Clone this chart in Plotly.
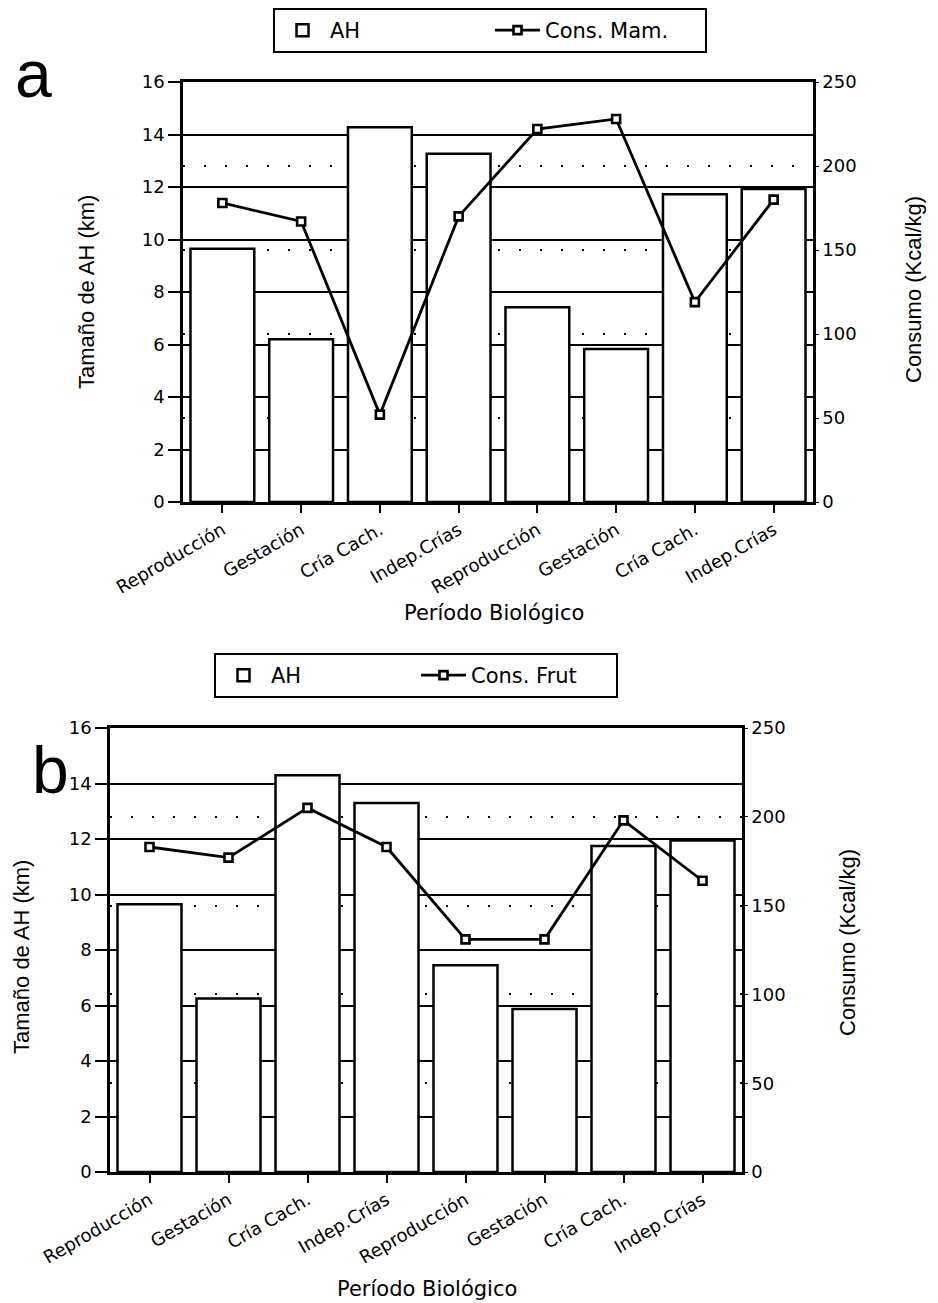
import plotly.graph_objects as go

# ---------------- data ----------------
periods = ["Reproducción", "Gestación", "Cría Cach.", "Indep.Crías",
           "Reproducción", "Gestación", "Cría Cach.", "Indep.Crías"]
ah_a = [9.65, 6.2, 14.28, 13.27, 7.42, 5.83, 11.72, 11.92]
cons_mam = [178, 167, 52, 170, 222, 228, 119, 180]
ah_b = [9.65, 6.25, 14.3, 13.3, 7.45, 5.87, 11.75, 11.95]
cons_frut = [183, 177, 205, 183, 131, 131, 198, 164]

left_ticks = [0, 2, 4, 6, 8, 10, 12, 14, 16]
right_ticks = [0, 50, 100, 150, 200, 250]
xpos = list(range(len(periods)))

W, H = 938, 1303
WIDE = "DejaVu Sans, Verdana, sans-serif"
ARIAL = "Liberation Sans, Arial, sans-serif"

def px(x0, x1):
    return [x0 / W, x1 / W]

def py(top, bottom):
    return [1 - bottom / H, 1 - top / H]

fig = go.Figure()

bar_style = dict(color="white", line=dict(color="black", width=2.5))
line_style = dict(color="black", width=2.8)
mark_style = dict(symbol="square", size=8, color="white", line=dict(color="black", width=2.6))

# panel a
fig.add_trace(go.Bar(x=xpos, y=ah_a, name="AH", xaxis="x", yaxis="y",
                     marker=bar_style, legend="legend"))
fig.add_trace(go.Scatter(x=xpos, y=cons_mam, name="Cons. Mam.", xaxis="x", yaxis="y2",
                         mode="lines+markers", line=line_style, marker=mark_style,
                         legend="legend"))
# panel b
fig.add_trace(go.Bar(x=xpos, y=ah_b, name="AH", xaxis="x2", yaxis="y3",
                     marker=bar_style, legend="legend2"))
fig.add_trace(go.Scatter(x=xpos, y=cons_frut, name="Cons. Frut", xaxis="x2", yaxis="y4",
                         mode="lines+markers", line=line_style, marker=mark_style,
                         legend="legend2"))

tickfont = dict(family=WIDE, size=18, color="black")

def xaxis_cfg(dom, anchor):
    return dict(domain=dom, anchor=anchor, range=[-0.5, 7.5], automargin=False,
                tickmode="array", tickvals=xpos, ticktext=periods,
                tickangle=-30, tickfont=dict(family=WIDE, size=18, color="black"),
                ticks="outside", ticklen=8, tickwidth=2, tickcolor="black",
                showline=True, linecolor="black", linewidth=2.5, mirror=True,
                showgrid=False, zeroline=False)

def yleft_cfg(dom, anchor):
    return dict(domain=dom, anchor=anchor, range=[0, 16], automargin=False,
                tickmode="array", tickvals=left_ticks,
                tickfont=tickfont, ticks="outside", ticklen=12, tickwidth=2,
                tickcolor="black", showline=True, linecolor="black", linewidth=2.5,
                showgrid=True, gridcolor="black", gridwidth=1.6, zeroline=False)

def yright_cfg(over, anchor):
    return dict(overlaying=over, anchor=anchor, side="right", range=[0, 250],
                automargin=False, tickmode="array", tickvals=right_ticks,
                tickfont=tickfont, ticks="outside", ticklen=3, tickcolor="black",
                showline=True, linecolor="black",
                linewidth=2.5, showgrid=True, gridcolor="black", gridwidth=2,
                griddash="2px,19px", zeroline=False)

legfont = dict(family=WIDE, size=21, color="black")

def ann(text, x, y, size, family, angle=0):
    return dict(text=text, x=x / W, y=1 - y / H, xref="paper", yref="paper",
                xanchor="center", yanchor="middle", showarrow=False, textangle=angle,
                font=dict(family=family, size=size, color="black"))

fig.update_layout(
    width=W, height=H, margin=dict(l=0, r=0, t=0, b=0, autoexpand=False),
    paper_bgcolor="white", plot_bgcolor="white",
    bargap=0.19, showlegend=True,
    xaxis=xaxis_cfg(px(183, 813), "y"),
    yaxis=yleft_cfg(py(82, 502), "x"),
    yaxis2=yright_cfg("y", "x"),
    xaxis2=xaxis_cfg(px(110, 742), "y3"),
    yaxis3=yleft_cfg(py(728, 1172), "x2"),
    yaxis4=yright_cfg("y3", "x2"),
    legend=dict(orientation="h", x=490 / W, xanchor="center", y=1 - 8 / H, yanchor="top",
                bordercolor="black", borderwidth=2, font=legfont, bgcolor="white",
                itemwidth=45, entrywidth=155),
    legend2=dict(orientation="h", x=416 / W, xanchor="center", y=1 - 653 / H, yanchor="top",
                 bordercolor="black", borderwidth=2, font=legfont, bgcolor="white",
                 itemwidth=45, entrywidth=140),
    annotations=[
        ann("a", 33, 74, 66, ARIAL),
        ann("b", 50, 770, 66, ARIAL),
        ann("Tamaño de AH (km)", 86, 292, 22, ARIAL, -90),
        ann("Consumo (Kcal/kg)", 914, 290, 22, ARIAL, -90),
        ann("Tamaño de AH (km)", 21, 957, 22, ARIAL, -90),
        ann("Consumo (Kcal/kg)", 847, 943, 22, ARIAL, -90),
        ann("Período Biológico", 494, 613, 21, WIDE),
        ann("Período Biológico", 427, 1289, 21, WIDE),
    ],
)

fig.write_html("out.html")
